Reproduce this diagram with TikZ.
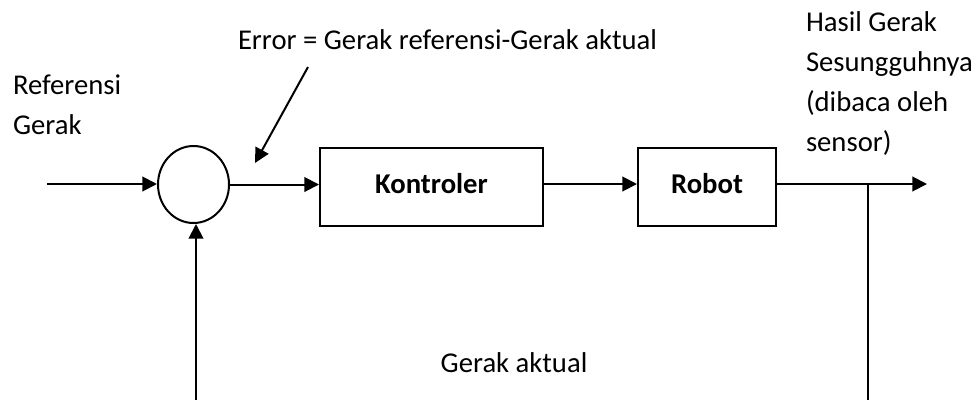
\documentclass[tikz,border=0pt]{standalone}
\usepackage{fontspec}
\setmainfont{Carlito}
\usetikzlibrary{arrows.meta,shapes.geometric}
\begin{document}
\begin{tikzpicture}[x=0.75pt,y=-0.75pt,
  line width=1.5pt,
  every node/.style={font=\fontsize{21.5}{30}\selectfont, inner sep=0pt},
  blk/.style={draw, minimum height=58.5pt},
  sumnode/.style={draw, ellipse, minimum width=53.25pt, minimum height=57.75pt},
  arr/.style={-{Triangle[length=11pt,width=11pt]}},
  lbl/.style={align=left, anchor=west}]
\useasboundingbox (0,0) rectangle (977,400);

% blocks of the loop
\node[sumnode] (sum) at (193.5,184.5) {};
\node[blk, minimum width=167.25pt] (kont) at (431.5,187) {};
\node[font=\fontsize{21.5}{30}\selectfont\bfseries] (kontT) at (431.5,184) {Kontroler};
\node[blk, minimum width=103.5pt] (robot) at (707,187) {};
\node[font=\fontsize{21.5}{30}\selectfont\bfseries] (robotT) at (707,184) {Robot};

% free ends of connectors
\coordinate (in) at (47,184);
\coordinate (out) at (927,184);
\coordinate (tap) at (868,184);
\coordinate (tapEnd) at (868,400);
\coordinate (fbStart) at (196,400);
\coordinate (errFrom) at (308,67);
\coordinate (errTo) at (255,163);

% forward path
\draw[arr] (in) -- (in -| sum.west);
\draw[arr] (sum.east) -- (sum.east -| kont.west);
\draw[arr] (kont.east |- tap) -- (robot.west |- tap);
\draw[arr] (robot.east |- tap) -- (out);

% feedback path
\draw (tap) -- (tapEnd);
\draw[arr] (fbStart) -- (fbStart |- sum.south);

% error pointer
\draw[arr] (errFrom) -- (errTo);

% labels
\node[lbl] (ref) at (12,105) {Referensi\\Gerak};
\node[lbl] (err) at (237,40) {Error = Gerak referensi-Gerak aktual};
\node[lbl] (hasil) at (805,84) {Hasil Gerak\\Sesungguhnya\\(dibaca oleh\\sensor)};
\node (aktual) at (514,363) {Gerak aktual};
\end{tikzpicture}
\end{document}
